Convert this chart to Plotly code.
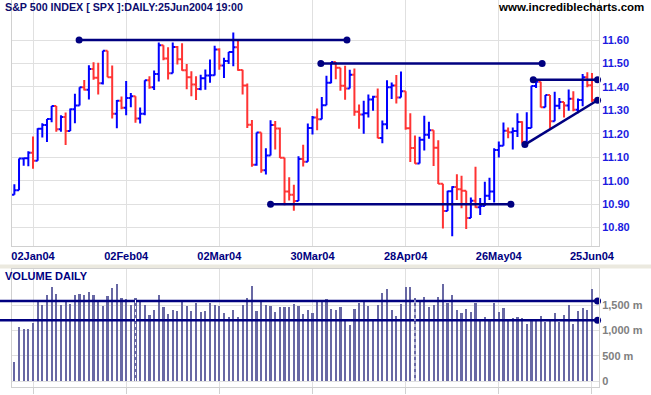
import plotly.graph_objects as go

# ---------------- data ----------------
month_days = [
    ("2003-12", [26, 29, 30, 31]),
    ("2004-01", [2, 5, 6, 7, 8, 9, 12, 13, 14, 15, 16, 20, 21, 22, 23, 26, 27, 28, 29, 30]),
    ("2004-02", [2, 3, 4, 5, 6, 9, 10, 11, 12, 13, 17, 18, 19, 20, 23, 24, 25, 26, 27]),
    ("2004-03", [1, 2, 3, 4, 5, 8, 9, 10, 11, 12, 15, 16, 17, 18, 19, 22, 23, 24, 25, 26, 29, 30, 31]),
    ("2004-04", [1, 2, 5, 6, 7, 8, 12, 13, 14, 15, 16, 19, 20, 21, 22, 23, 26, 27, 28, 29, 30]),
    ("2004-05", [3, 4, 5, 6, 7, 10, 11, 12, 13, 14, 17, 18, 19, 20, 21, 24, 25, 26, 27, 28]),
    ("2004-06", [1, 2, 3, 4, 7, 8, 9, 10, 14, 15, 16, 17, 18, 21, 22, 23, 24, 25]),
]
dates = [f"{m}-{d:02d}" for m, days in month_days for d in days]

opens = [10.940, 10.959, 11.095, 11.096, 11.119, 11.085, 11.222, 11.237, 11.263, 11.319,
         11.219, 11.272, 11.212, 11.305, 11.321, 11.398, 11.388, 11.476, 11.439, 11.416,
         11.554, 11.441, 11.285, 11.341, 11.311, 11.353, 11.360, 11.265, 11.286, 11.428,
         11.398, 11.455, 11.578, 11.521, 11.458, 11.570, 11.518, 11.471, 11.441, 11.410,
         11.391, 11.437, 11.449, 11.450, 11.560, 11.491, 11.510, 11.549, 11.569, 11.472,
         11.406, 11.239, 11.068, 11.206, 11.045, 11.107, 11.238, 11.223, 11.098, 10.954,
         10.940, 10.913, 11.092, 11.081, 11.225, 11.270, 11.262, 11.322, 11.418, 11.506,
         11.482, 11.405, 11.393, 11.452, 11.294, 11.282, 11.288, 11.346, 11.358, 11.182,
         11.241, 11.399, 11.406, 11.355, 11.381, 11.224, 11.139, 11.073, 11.175, 11.196,
         11.215, 11.140, 10.987, 10.871, 10.955, 10.973, 10.964, 10.957, 10.841, 10.915,
         10.887, 10.892, 10.936, 10.954, 11.131, 11.149, 11.213, 11.207, 11.212, 11.250,
         11.166, 11.225, 11.404, 11.422, 11.313, 11.365, 11.253, 11.320, 11.336, 11.321,
         11.350, 11.303, 11.344, 11.441, 11.407]
highs = [10.985, 11.095, 11.098, 11.126, 11.189, 11.224, 11.245, 11.263, 11.319, 11.319,
         11.279, 11.291, 11.308, 11.371, 11.398, 11.429, 11.492, 11.505, 11.503, 11.554,
         11.554, 11.491, 11.344, 11.359, 11.425, 11.374, 11.360, 11.312, 11.428, 11.445,
         11.470, 11.589, 11.578, 11.569, 11.589, 11.574, 11.586, 11.498, 11.467, 11.445,
         11.452, 11.474, 11.517, 11.575, 11.565, 11.524, 11.549, 11.632, 11.599, 11.473,
         11.415, 11.259, 11.206, 11.206, 11.138, 11.258, 11.255, 11.227, 11.098, 11.015,
         10.983, 11.104, 11.153, 11.244, 11.276, 11.308, 11.357, 11.448, 11.506, 11.506,
         11.482, 11.490, 11.473, 11.478, 11.325, 11.341, 11.368, 11.362, 11.393, 11.257,
         11.428, 11.419, 11.451, 11.466, 11.381, 11.288, 11.193, 11.187, 11.277, 11.251,
         11.215, 11.173, 10.987, 10.957, 10.976, 11.028, 11.021, 10.957, 10.928, 11.059,
         10.926, 10.996, 11.013, 11.138, 11.167, 11.248, 11.227, 11.227, 11.288, 11.253,
         11.292, 11.405, 11.428, 11.422, 11.365, 11.365, 11.379, 11.353, 11.336, 11.389,
         11.381, 11.351, 11.455, 11.463, 11.459]
lows = [10.940, 10.959, 11.064, 11.062, 11.051, 11.085, 11.184, 11.165, 11.249, 11.209,
        11.209, 11.152, 11.212, 11.245, 11.321, 11.385, 11.346, 11.430, 11.368, 11.410,
        11.441, 11.265, 11.224, 11.305, 11.279, 11.313, 11.247, 11.244, 11.279, 11.392,
        11.387, 11.423, 11.514, 11.432, 11.458, 11.495, 11.469, 11.390, 11.360, 11.344,
        11.386, 11.388, 11.418, 11.449, 11.473, 11.438, 11.498, 11.488, 11.469, 11.368,
        11.225, 11.059, 11.064, 11.034, 11.026, 11.107, 11.133, 11.097, 10.895, 10.916,
        10.872, 10.913, 11.061, 11.081, 11.197, 11.215, 11.262, 11.322, 11.416, 11.433,
        11.384, 11.345, 11.393, 11.277, 11.222, 11.200, 11.269, 11.298, 11.181, 11.160,
        11.219, 11.348, 11.329, 11.355, 11.217, 11.080, 11.072, 11.073, 11.129, 11.179,
        11.063, 10.986, 10.796, 10.871, 10.763, 10.918, 10.882, 10.794, 10.841, 10.885,
        10.854, 10.892, 10.918, 10.907, 11.099, 11.149, 11.181, 11.133, 11.186, 11.159,
        11.166, 11.225, 11.395, 11.312, 11.313, 11.222, 11.253, 11.305, 11.269, 11.298,
        11.296, 11.288, 11.317, 11.399, 11.336]
closes = [10.959, 11.095, 11.096, 11.119, 11.085, 11.222, 11.237, 11.263, 11.319, 11.219,
          11.272, 11.212, 11.305, 11.321, 11.398, 11.388, 11.476, 11.439, 11.416, 11.554,
          11.441, 11.285, 11.341, 11.311, 11.353, 11.360, 11.265, 11.286, 11.428, 11.398,
          11.455, 11.578, 11.521, 11.458, 11.570, 11.518, 11.471, 11.441, 11.410, 11.391,
          11.437, 11.449, 11.450, 11.560, 11.491, 11.510, 11.549, 11.569, 11.472, 11.406,
          11.239, 11.068, 11.206, 11.045, 11.107, 11.238, 11.223, 11.098, 10.954, 10.940,
          10.913, 11.092, 11.081, 11.225, 11.270, 11.262, 11.322, 11.418, 11.506, 11.482,
          11.405, 11.393, 11.452, 11.294, 11.282, 11.288, 11.346, 11.358, 11.182, 11.241,
          11.399, 11.406, 11.355, 11.381, 11.224, 11.139, 11.073, 11.175, 11.196, 11.215,
          11.140, 10.987, 10.871, 10.955, 10.973, 10.964, 10.957, 10.841, 10.915, 10.887,
          10.892, 10.936, 10.954, 11.131, 11.149, 11.213, 11.207, 11.212, 11.250, 11.166,
          11.225, 11.404, 11.422, 11.313, 11.365, 11.253, 11.320, 11.336, 11.321, 11.350,
          11.303, 11.344, 11.441, 11.407, 11.344]
volumes = [370, 1064, 1025, 1025, 1157, 1586, 1500, 1699, 1857, 1719,
           1500, 1600, 1520, 1699, 1719, 1699, 1758, 1699, 1580, 1481,
           1679, 1838, 1917, 1639, 1619, 1500, 1639, 1580, 1500, 1302,
           1401, 1699, 1461, 1322, 1401, 1381, 1580, 1481, 1381, 1540,
           1362, 1381, 1540, 1500, 1481, 1342, 1263, 1401, 1263, 1500,
           1639, 1877, 1381, 1600, 1500, 1481, 1362, 1461, 1461, 1461,
           1520, 1481, 1322, 1401, 1342, 1580, 1580, 1619, 1421, 1401,
           1461, 1203, 1104, 1421, 1540, 1580, 1481, 1203, 1500, 1738,
           1818, 1401, 1282, 1520, 1857, 1857, 1639, 1580, 1659, 1461,
           1500, 1659, 1917, 1540, 1699, 1401, 1342, 1421, 1362, 1540,
           1203, 1263, 1223, 1540, 1362, 1441, 1203, 1243, 1263, 1243,
           1124, 1223, 1223, 1282, 1163, 1183, 1342, 1163, 1302, 1500,
           1124, 1381, 1441, 1401, 1818]

tick_dates = ["2004-01-02", "2004-02-02", "2004-03-02", "2004-03-30",
              "2004-04-28", "2004-05-26", "2004-06-25"]
tick_labels = ["02Jan04", "02Feb04", "02Mar04", "30Mar04", "28Apr04", "26May04", "25Jun04"]
price_ticks = [10.80, 10.90, 11.00, 11.10, 11.20, 11.30, 11.40, 11.50, 11.60]
volume_ticks = [0, 500, 1000, 1500]
volume_tick_labels = ["0", "500 m", "1,000 m", "1,500 m"]
dotted_volume_days = ["2004-02-04", "2004-04-30"]

# drawn trend lines: (bar position, price)
trend_lines = [
    [(13.9, 11.60), (71.4, 11.60)],
    [(65.8, 11.50), (113.3, 11.50)],
    [(55.0, 10.90), (106.6, 10.90)],
    [(111.4, 11.43), (125.2, 11.43)],
    [(109.6, 11.154), (125.2, 11.343)],
]
volume_levels = [1587, 1204]
volume_level_end = 125.2

# ---------------- layout constants ----------------
W, H = 651, 395
FONT = "Liberation Sans"
NAVY = "#000080"
GRID = "#e0e0e0"
BORDER = "#d0d0d0"
XL, XR = 12, 599          # plot left/right in px
X_RANGE = [-0.508, 125.51]

xi = list(range(len(dates)))
tickvals = [dates.index(d) for d in tick_dates]

fig = go.Figure()

fig.add_trace(go.Ohlc(
    x=xi, open=opens, high=highs, low=lows, close=closes,
    increasing=dict(line=dict(color="#0000ff", width=2)),
    decreasing=dict(line=dict(color="#ff3333", width=2)),
    tickwidth=0.5, xaxis="x", yaxis="y", hoverinfo="skip", showlegend=False))

for seg in trend_lines:
    fig.add_trace(go.Scatter(
        x=[p[0] for p in seg], y=[p[1] for p in seg], mode="lines+markers",
        line=dict(color=NAVY, width=2.5), marker=dict(color=NAVY, size=7),
        xaxis="x", yaxis="y", showlegend=False, hoverinfo="skip", cliponaxis=False))

fig.add_trace(go.Bar(
    x=xi, y=volumes, width=0.47, marker=dict(color="#6868a4", line=dict(width=0)),
    xaxis="x2", yaxis="y2", showlegend=False, hoverinfo="skip"))

fig.add_trace(go.Scatter(
    x=[volume_level_end] * len(volume_levels), y=volume_levels, mode="markers",
    marker=dict(color=NAVY, size=7), xaxis="x2", yaxis="y2",
    showlegend=False, hoverinfo="skip", cliponaxis=False))

dom_x = [XL / W, XR / W]
end_paper = dom_x[0] + (volume_level_end - X_RANGE[0]) / (X_RANGE[1] - X_RANGE[0]) * (dom_x[1] - dom_x[0])

shapes = []
for lv in volume_levels:
    shapes.append(dict(type="line", xref="paper", yref="y2", x0=0, x1=end_paper, y0=lv, y1=lv,
                       line=dict(color=NAVY, width=2.5), layer="above"))
for d in dotted_volume_days:
    i = dates.index(d)
    shapes.append(dict(type="line", xref="x2", yref="y2", x0=i, x1=i, y0=0, y1=volumes[i],
                       line=dict(color="white", width=1, dash="dot"), layer="above"))
# separator band between panes
shapes.append(dict(type="rect", xref="paper", yref="paper", x0=0, x1=1,
                   y0=1 - 268.5 / H, y1=1 - 264.5 / H, fillcolor="#ebe9df",
                   line=dict(width=0), layer="below"))

axis_common = dict(showgrid=True, gridcolor=GRID, gridwidth=1, zeroline=False,
                   showline=True, linecolor=BORDER, linewidth=1, mirror=True,
                   automargin=False, fixedrange=True)

fig.update_layout(
    width=W, height=H, autosize=False,
    margin=dict(l=0, r=0, t=0, b=0, pad=0),
    paper_bgcolor="white", plot_bgcolor="white",
    showlegend=False, bargap=0, hovermode=False,
    xaxis=dict(domain=dom_x, range=X_RANGE, anchor="y",
               tickvals=tickvals, ticktext=tick_labels, ticks="",
               tickfont=dict(family=FONT, size=11, color=NAVY, weight="bold"),
               rangeslider=dict(visible=False), **axis_common),
    yaxis=dict(domain=[1 - 246 / H, 1], range=[10.7215, 11.7706], anchor="x", side="right",
               tickvals=price_ticks, ticktext=[f"{v:.2f}" for v in price_ticks], ticks="",
               tickfont=dict(family=FONT, size=11, color="#1a1ae0", weight="bold"),
               **axis_common),
    xaxis2=dict(domain=dom_x, range=X_RANGE, anchor="y2",
                tickvals=tickvals, showticklabels=False, ticks="outside", ticklen=6,
                tickcolor=BORDER, **axis_common),
    yaxis2=dict(domain=[1 - 386.7 / H, 1 - 269 / H], range=[-113, 2220], anchor="x2", side="right",
                tickvals=volume_ticks, ticktext=volume_tick_labels, ticks="",
                tickfont=dict(family=FONT, size=11, color="#808080", weight="bold"),
                **axis_common),
    shapes=shapes,
    annotations=[
        dict(text="S&P 500 INDEX [ SPX ]:DAILY:25Jun2004 19:00", xref="paper", yref="paper",
             x=3 / W, y=1 - 7.5 / H, xanchor="left", yanchor="middle", showarrow=False,
             font=dict(family=FONT, size=10.7, color="#0c0c6e", weight="bold")),
        dict(text="www.incrediblecharts.com", xref="paper", yref="paper",
             x=646 / W, y=1 - 7.5 / H, xanchor="right", yanchor="middle", showarrow=False,
             font=dict(family=FONT, size=11.5, color="black", weight="bold")),
        dict(text="VOLUME DAILY", xref="paper", yref="paper",
             x=3 / W, y=1 - 276 / H, xanchor="left", yanchor="middle", showarrow=False,
             font=dict(family=FONT, size=11, color=NAVY, weight="bold")),
    ],
)

fig.write_html("out.html", config={"displayModeBar": False, "staticPlot": True},
               post_script="document.body.style.margin='0px';document.body.style.overflow='hidden';")
